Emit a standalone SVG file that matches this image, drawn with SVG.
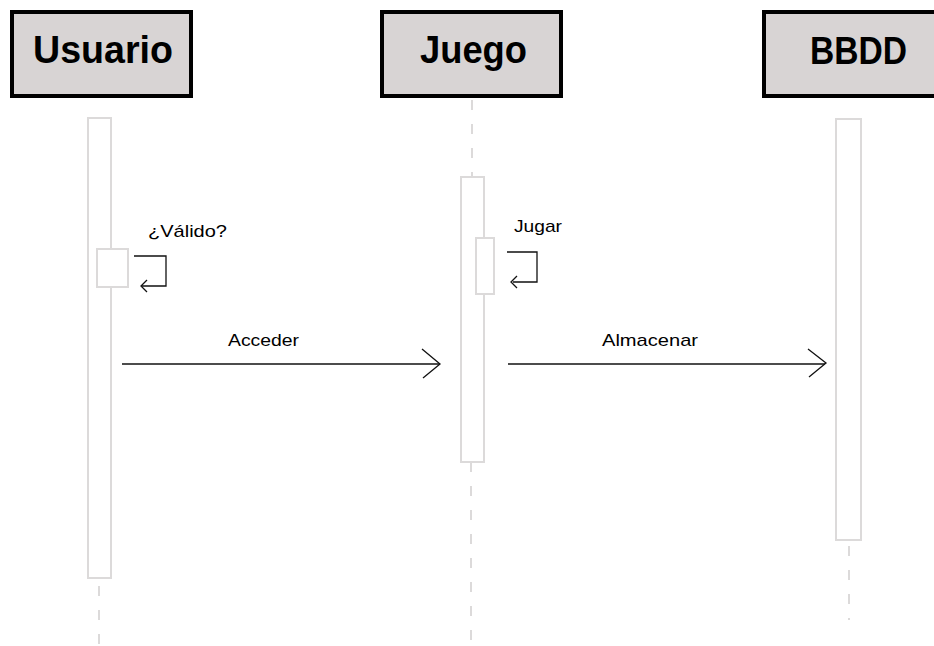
<svg xmlns="http://www.w3.org/2000/svg" width="934" height="646" viewBox="0 0 934 646">
  <defs>
    <style>
      .hdr { fill: #d8d4d4; stroke: #000; stroke-width: 4; }
      .hdrtxt { font-family: "Liberation Sans", Arial, sans-serif; font-weight: bold; font-size: 39px; fill: #000; text-anchor: start; }
      .act { fill: #fff; stroke: #dcdada; stroke-width: 2; }
      .life { stroke: #dcdada; stroke-width: 2; stroke-dasharray: 10 14; fill: none; }
      .msg { stroke: #111; stroke-width: 1.3; fill: none; }
      .lbl { font-family: "Liberation Sans", Arial, sans-serif; font-size: 17px; fill: #000; }
    </style>
  </defs>
  <rect width="934" height="646" fill="#fff"/>

  <g id="lifelines">
    <line class="life" x1="472" y1="100" x2="472" y2="177"/>
    <line class="life" x1="99" y1="586" x2="99" y2="646"/>
    <line class="life" x1="471" y1="462" x2="471" y2="646"/>
    <line class="life" x1="849" y1="546" x2="849" y2="620"/>
  </g>

  <g id="node-usuario">
    <rect class="hdr" x="12" y="12" width="179" height="84"/>
    <text class="hdrtxt" x="33" y="63" textLength="140" lengthAdjust="spacingAndGlyphs">Usuario</text>
    <rect class="act" x="88" y="118" width="23" height="460"/>
    <rect class="act" x="97" y="249" width="31" height="38"/>
  </g>

  <g id="node-juego">
    <rect class="hdr" x="382" y="12" width="179" height="84"/>
    <text class="hdrtxt" x="420" y="63" textLength="107" lengthAdjust="spacingAndGlyphs">Juego</text>
    <rect class="act" x="461" y="177" width="23" height="285"/>
    <rect class="act" x="476" y="238" width="18" height="56"/>
  </g>

  <g id="node-bbdd">
    <rect class="hdr" x="764" y="12" width="182" height="84"/>
    <text class="hdrtxt" x="810" y="64" textLength="97" lengthAdjust="spacingAndGlyphs">BBDD</text>
    <rect class="act" x="836" y="119" width="25" height="421"/>
  </g>

  <g id="connectors">
    <path class="msg" d="M134 256 H166 V286 H142"/>
    <path class="msg" d="M147 280 L141 286 L147 292"/>
    <path class="msg" d="M507 252 H537 V282 H513"/>
    <path class="msg" d="M517 276 L511 282 L517 288"/>
    <line class="msg" x1="122" y1="364" x2="439" y2="364"/>
    <path class="msg" d="M422 349 L440 364 L423 378"/>
    <line class="msg" x1="508" y1="364" x2="825" y2="364"/>
    <path class="msg" d="M808 349 L826 363 L809 377"/>
  </g>

  <g id="labels">
    <text class="lbl" x="148" y="237" textLength="79" lengthAdjust="spacingAndGlyphs">¿Válido?</text>
    <text class="lbl" x="514" y="232" textLength="48" lengthAdjust="spacingAndGlyphs">Jugar</text>
    <text class="lbl" x="228" y="346" textLength="71" lengthAdjust="spacingAndGlyphs">Acceder</text>
    <text class="lbl" x="602" y="346" textLength="96" lengthAdjust="spacingAndGlyphs">Almacenar</text>
  </g>
</svg>
